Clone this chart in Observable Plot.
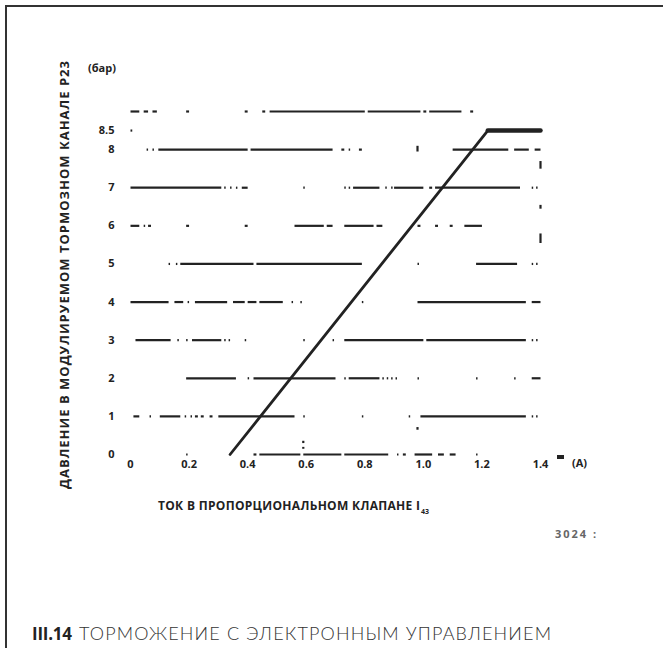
<!DOCTYPE html>
<html>
<head>
<meta charset="utf-8">
<script src="https://cdn.jsdelivr.net/npm/d3@7"></script>
<script src="https://cdn.jsdelivr.net/npm/@observablehq/plot@0.6"></script>
<style>
  html, body { margin: 0; padding: 0; background: #fff; }
  #wrap { position: relative; width: 663px; height: 648px; overflow: hidden; }
  #frame { position: absolute; left: 5px; top: 5px; width: 680px; height: 660px;
           border-left: 2px solid #333; border-top: 2px solid #333; }
  #chart { position: absolute; left: 0; top: 0; }
</style>
</head>
<body>
<div id="wrap"><div id="frame"></div><div id="chart"></div></div>
<script>
// ---- data ----
const xTicks = [0, 0.2, 0.4, 0.6, 0.8, 1.0, 1.2, 1.4];
const xTickLabels = ["0", "0.2", "0.4", "0.6", "0.8", "1.0", "1.2", "1.4"];
const yTicks = [0, 1, 2, 3, 4, 5, 6, 7, 8, 8.5];
const yTickLabels = ["0", "1", "2", "3", "4", "5", "6", "7", "8", "8.5"];

// pressure curve: current (A) -> pressure (bar)
const curveCurrent = [0.34, 1.22, 1.40];
const curvePressure = [0, 8.5, 8.5];

// broken (scanned) horizontal grid lines: level -> [[from, to], ...] in A
const gridLevels = [9, 8.5, 8, 7, 6, 5, 4, 3, 2, 1, 0];
const gridPieces = [
  [[0,0.03],[0.045,0.06],[0.075,0.09],[0.19,0.2],[0.39,0.4],[0.45,0.46],[0.475,0.8],[0.81,0.99],[1.0,1.01],[1.02,1.13],[1.16,1.17]],
  [[0,0.006]],
  [[0.055,0.06],[0.075,0.08],[0.095,0.4],[0.41,0.69],[0.72,0.73],[0.745,0.75],[0.78,0.79],[1.10,1.29],[1.31,1.36],[1.38,1.4]],
  [[0,0.31],[0.32,0.325],[0.34,0.345],[0.36,0.365],[0.38,0.40],[0.59,0.595],[0.73,0.735],[0.745,0.75],[0.76,0.85],[0.87,0.875],[0.89,0.895],[0.90,1.0],[1.02,1.03],[1.04,1.33],[1.37,1.375],[1.385,1.39]],
  [[0,0.03],[0.045,0.05],[0.06,0.07],[0.19,0.2],[0.39,0.4],[0.56,0.66],[0.67,0.69],[0.73,0.83],[0.84,0.86],[0.98,0.99],[1.04,1.05],[1.09,1.1],[1.14,1.2]],
  [[0.13,0.135],[0.155,0.16],[0.17,0.42],[0.43,0.79],[0.98,0.985],[1.18,1.32],[1.37,1.375],[1.385,1.39]],
  [[0,0.13],[0.15,0.18],[0.195,0.2],[0.22,0.33],[0.35,0.39],[0.40,0.43],[0.44,0.52],[0.55,0.555],[0.58,0.585],[0.79,0.795],[0.98,1.35],[1.37,1.4]],
  [[0.017,0.137],[0.16,0.165],[0.19,0.195],[0.21,0.31],[0.32,0.325],[0.335,0.34],[0.39,0.395],[0.59,0.595],[0.69,0.695],[0.73,1.0],[1.01,1.35],[1.37,1.375],[1.385,1.39]],
  [[0.19,0.36],[0.4,0.405],[0.42,0.70],[0.73,0.735],[0.745,0.85],[0.86,0.865],[0.875,0.88],[0.89,0.895],[0.905,0.91],[0.98,0.985],[1.18,1.185],[1.31,1.315],[1.37,1.4]],
  [[0.01,0.03],[0.065,0.07],[0.10,0.17],[0.185,0.19],[0.205,0.21],[0.22,0.23],[0.24,0.25],[0.27,0.28],[0.30,0.56],[0.59,0.595],[0.79,0.795],[0.95,0.955],[0.99,1.35],[1.37,1.375],[1.385,1.39]],
  [[0.19,0.195],[0.42,0.43],[0.44,0.58],[0.59,0.72],[0.73,0.88],[0.91,0.915],[0.93,0.94],[0.97,1.03],[1.05,1.07],[1.09,1.11],[1.18,1.185]]
];

// broken vertical bits: current -> [from, to] in bar
const vCurrents = [1.4, 1.4, 1.4, 0.98, 0.59, 0.59, 0.98];
const vRanges = [[7.5,7.7],[6.45,6.55],[5.55,5.8],[7.95,8.1],[0.15,0.2],[0.3,0.36],[0.65,0.72]];

// ---- build tables ----
const hSegs = [];
gridLevels.forEach((lvl, i) => gridPieces[i].forEach(([a, b]) => hSegs.push({y: lvl, x1: a, x2: b})));
const vSegs = vCurrents.map((c, i) => ({x: c, y1: vRanges[i][0], y2: vRanges[i][1]}));
const curve = curveCurrent.map((c, i) => ({x: c, y: curvePressure[i]}));
const plateau = curve.slice(1);

const ink = "#222";
const chart = Plot.plot({
  width: 663,
  height: 648,
  marginLeft: 130,
  marginRight: 123,
  marginTop: 111,
  marginBottom: 194,
  x: {domain: [0, 1.4]},
  y: {domain: [0, 9]},
  style: {fontFamily: "'Open Sans', sans-serif", fontSize: "11px", fontWeight: 700, color: ink, background: "transparent", overflow: "visible"},
  marks: [
    Plot.link(hSegs, {x1: "x1", x2: "x2", y1: "y", y2: "y", stroke: ink, strokeWidth: 2.2}),
    Plot.link(vSegs, {x1: "x", x2: "x", y1: "y1", y2: "y2", stroke: ink, strokeWidth: 2.2}),
    Plot.line(curve, {x: "x", y: "y", stroke: ink, strokeWidth: 2.8}),
    Plot.line(plateau, {x: "x", y: "y", stroke: ink, strokeWidth: 4.5}),
    Plot.axisX(xTicks, {tickSize: 0, tickPadding: 6, label: null, tickFormat: d => xTickLabels[xTicks.indexOf(d)]}),
    Plot.axisY(yTicks, {tickSize: 0, tickPadding: 16, label: null, tickFormat: d => yTickLabels[yTicks.indexOf(d)]})
  ]
});
document.getElementById("chart").appendChild(chart);

// ---- texts ----
const svg = d3.select(chart);
const bold = "'Open Sans', sans-serif";
svg.append("text")
  .attr("transform", "translate(69,275) rotate(-90)")
  .attr("text-anchor", "middle")
  .attr("font-family", bold).attr("font-weight", 700).attr("font-size", 13)
  .attr("fill", ink).attr("textLength", 428)
  .text("ДАВЛЕНИЕ В МОДУЛИРУЕМОМ ТОРМОЗНОМ КАНАЛЕ P23");
svg.append("text")
  .attr("x", 88).attr("y", 72).attr("text-anchor", "start")
  .attr("font-family", bold).attr("font-weight", 700).attr("font-size", 11)
  .attr("fill", ink).text("(бар)");
svg.append("text")
  .attr("x", 572).attr("y", 467).attr("text-anchor", "start")
  .attr("font-family", bold).attr("font-weight", 700).attr("font-size", 11)
  .attr("fill", ink).text("(A)");
svg.append("rect").attr("x", 557).attr("y", 455).attr("width", 7).attr("height", 4).attr("fill", ink);
svg.append("text")
  .attr("x", 158).attr("y", 510).attr("text-anchor", "start")
  .attr("font-family", bold).attr("font-weight", 700).attr("font-size", 12)
  .attr("fill", ink).attr("textLength", 262)
  .text("ТОК В ПРОПОРЦИОНАЛЬНОМ КЛАПАНЕ I");
svg.append("text")
  .attr("x", 421).attr("y", 514).attr("text-anchor", "start")
  .attr("font-family", bold).attr("font-weight", 700).attr("font-size", 7)
  .attr("fill", ink).text("43");
svg.append("text")
  .attr("x", 555).attr("y", 538).attr("text-anchor", "start")
  .attr("font-family", bold).attr("font-weight", 700).attr("font-size", 11)
  .attr("letter-spacing", 2)
  .attr("fill", "#666").text("3024 :");
svg.append("text")
  .attr("x", 32).attr("y", 640).attr("text-anchor", "start")
  .attr("font-family", bold).attr("font-weight", 700).attr("font-size", 17)
  .attr("fill", "#222").attr("textLength", 40).text("III.14");
svg.append("text")
  .attr("x", 79).attr("y", 640).attr("text-anchor", "start")
  .attr("font-family", "Lato, sans-serif").attr("font-weight", 300).attr("font-size", 18)
  .attr("fill", "#333").attr("textLength", 472)
  .text("ТОРМОЖЕНИЕ С ЭЛЕКТРОННЫМ УПРАВЛЕНИЕМ");
</script>
</body>
</html>
